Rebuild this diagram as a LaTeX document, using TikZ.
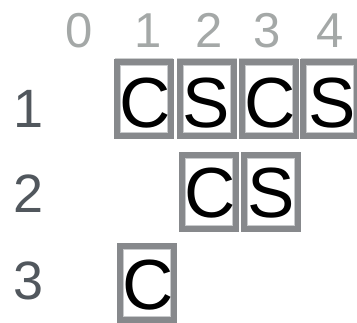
\documentclass[tikz,border=0pt]{standalone}
\usepackage{fontspec}
\setmainfont{Liberation Sans}
\definecolor{hdr}{HTML}{A4A8A7}
\definecolor{rowc}{HTML}{51575D}
\definecolor{boxc}{HTML}{87898C}
\definecolor{boxin}{HTML}{C9CBCD}
\definecolor{ulc}{HTML}{CDCFCF}
\tikzset{
  cell/.style={draw=boxc, line width=6pt, outer sep=0pt, inner sep=0pt,
    minimum width=54pt, minimum height=74pt},
  inl/.style={draw=boxin, line width=1pt},
  letter/.style={anchor=base, inner sep=0pt, text=black, font=\fontsize{71}{71}\selectfont},
  hdrnum/.style={anchor=base, inner sep=0pt, text=hdr, font=\fontsize{49}{49}\selectfont},
  rownum/.style={anchor=base, inner sep=0pt, text=rowc, font=\fontsize{54}{54}\selectfont},
  uline/.style={draw=ulc, line width=0.8pt}
}
\begin{document}
\begin{tikzpicture}[x=1pt,y=-1pt]
\useasboundingbox (0,0) rectangle (357,323);
% header numbers
\node[hdrnum] (h0) at (79.5,48) {0};
\node[hdrnum] (h1) at (148,48) {1};
\node[hdrnum] (h2) at (209.5,48) {2};
\node[hdrnum] (h3) at (267.5,48) {3};
\node[hdrnum] (h4) at (330.5,48) {4};
% header underlines
\draw[uline] (115,58) -- (173,58);
\draw[uline] (177,58) -- (237,58);
\draw[uline] (238.5,58) -- (298,58);
\draw[uline] (300.5,58) -- (357,58);
% row numbers
\node[rownum] (r1) at (28.5,127.5) {1};
\node[rownum] (r2) at (28.5,213) {2};
\node[rownum] (r3) at (28.5,300) {3};
% row 1
\node[cell] (a1) at (143.5,99.5) {};
\node[cell] (a2) at (206.5,99.5) {};
\node[cell] (a3) at (268.5,99.5) {};
\node[cell] (a4) at (329.5,99.5) {};
% row 2
\node[cell] (b2) at (209,192) {};
\node[cell] (b3) at (270.5,192) {};
% row 3
\node[cell] (c1) at (146.5,283) {};
\foreach \n in {a1,a2,a3,a4,b2,b3,c1}
  \draw[inl] ([xshift=3.5pt,yshift=-3.5pt]\n.north west) rectangle ([xshift=-3.5pt,yshift=3.5pt]\n.south east);
% letters
\node[letter] (la1) at (145,127.5) {C};
\node[letter] (la2) at (206.5,127.5) {S};
\node[letter] (la3) at (270,127.5) {C};
\node[letter] (la4) at (332,127.5) {S};
\node[letter] (lb2) at (210.5,217.5) {C};
\node[letter] (lb3) at (271,217.5) {S};
\node[letter] (lc1) at (148,309.5) {C};
\end{tikzpicture}
\end{document}
